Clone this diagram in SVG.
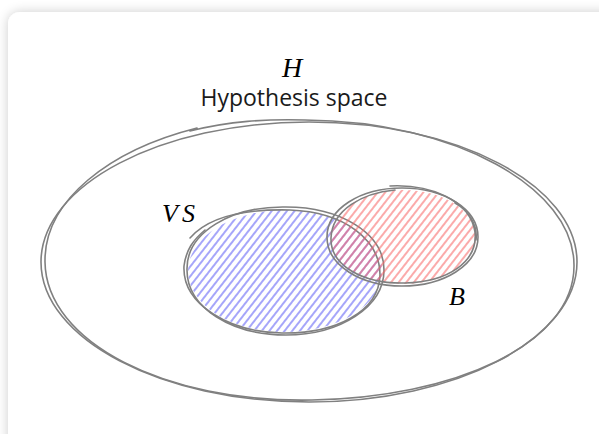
<svg xmlns="http://www.w3.org/2000/svg" width="599" height="434" viewBox="0 0 599 434">
<style>
.o{fill:none;stroke:#808080;stroke-width:1.6;stroke-linecap:round;stroke-linejoin:round}
.m{font-family:"Liberation Serif",serif;font-style:italic;fill:#000}
.t{font-family:"Open Sans","Noto Sans",sans-serif;fill:#1a1a1a}
</style>
<defs>
<filter id="sh" x="-10%" y="-10%" width="120%" height="120%">
<feGaussianBlur in="SourceAlpha" stdDeviation="6"/>
<feComponentTransfer><feFuncA type="linear" slope="0.2"/></feComponentTransfer>
<feMerge><feMergeNode/><feMergeNode in="SourceGraphic"/></feMerge>
</filter>
<pattern id="hb" patternUnits="userSpaceOnUse" width="6" height="40" patternTransform="rotate(38)">
<line x1="2" y1="0" x2="2" y2="40" stroke="#5c5cf5" stroke-width="1.1"/>
</pattern>
<pattern id="hr" patternUnits="userSpaceOnUse" width="6" height="40" patternTransform="rotate(38)">
<line x1="2" y1="0" x2="2" y2="40" stroke="#f86464" stroke-width="1.1"/>
</pattern>
</defs>
<rect width="599" height="434" fill="#ffffff"/>
<rect x="8" y="12" width="640" height="480" rx="12" fill="#ffffff" filter="url(#sh)"/>

<g id="H">
<path class="o" d="M41,262 C41,185 161,122 309,122 C457,122 577,185 577,262 C577,339 457,402 309,402 C161,402 41,339 41,262"/>
<path class="o" d="M190,131 C230,121 265,119 305,120 C455,121 574,188 574,265 C575,345 452,398 312,400 C165,403 46,342 45,262 C44,200 110,150 197,128"/>
<text class="m" x="292" y="77" font-size="28" text-anchor="middle">H</text>
<text class="t" x="294" y="106" font-size="23" text-anchor="middle">Hypothesis space</text>
</g>

<g id="VS">
<ellipse cx="285" cy="271" rx="97" ry="61" fill="url(#hb)"/>
<path class="o" d="M187,270 C186,232 232,206 286,207 C340,207 384,233 384,270 C384,307 340,335 286,335 C232,335 187,308 187,270"/>
<path class="o" d="M190,238 C210,215 250,209 290,210 C345,212 380,240 380,275 C379,312 335,334 282,333 C230,332 182,305 184,266 C186,250 193,240 205,230"/>
<text class="m" x="162" y="222" font-size="26" letter-spacing="4">VS</text>
</g>

<g id="B">
<ellipse cx="403" cy="237" rx="73" ry="47" fill="url(#hr)"/>
<path class="o" d="M327,237 C327,209 360,188 402,188 C444,188 478,209 478,237 C478,265 444,286 402,286 C360,286 327,265 327,237"/>
<path class="o" d="M390,186 C430,184 470,200 475,232 C478,262 448,282 405,283 C362,284 330,265 331,238 C332,210 362,193 395,190 M455,203 C468,210 478,225 476,240"/>
<text class="m" x="449" y="305" font-size="26">B</text>
</g>
</svg>
